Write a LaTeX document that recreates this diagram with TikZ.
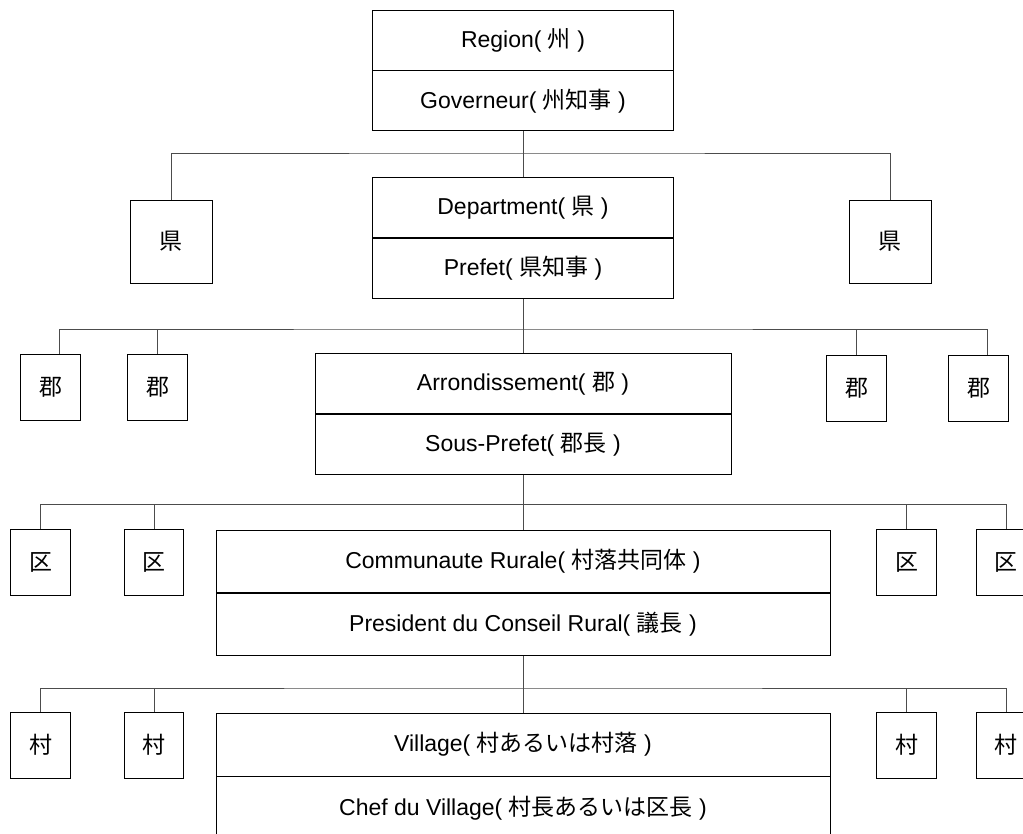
\documentclass[tikz,border=0pt]{standalone}
\usepackage{fontspec}
\setmainfont{Liberation Sans}
\newfontfamily\cjk{Noto Sans CJK JP}
\newcommand{\jp}[1]{{\cjk #1}}
\begin{document}
\begin{tikzpicture}[x=1pt, y=-1pt,
  every node/.style={inner sep=0pt, font=\fontsize{23}{27}\selectfont},
  rowbox/.style={draw, line width=0.9pt, minimum width=#1, minimum height=60pt},
  unitbox/.style={draw, line width=0.9pt, minimum width=59.5pt, minimum height=66pt},
  link/.style={draw=black!70, line width=0.8pt}]
\useasboundingbox (0,0) rectangle (1023,834);
\clip (0,0) rectangle (1023,834);
% Region
\node[rowbox=301pt] (reg) at (523,40) {Region( \jp{州} )};
\node[rowbox=301pt, anchor=north] (gov) at (reg.south) {Governeur( \jp{州知事} )};
% Department
\coordinate (bus1) at (523,153);
\node[rowbox=301pt] (dep) at (523,207.5) {Department( \jp{県} )};
\node[rowbox=301pt, anchor=north] (pref) at (dep.south) {Prefet( \jp{県知事} )};
\node[unitbox, minimum width=82pt, minimum height=83pt] (kenL) at (171,241.5) {\jp{県}};
\node[unitbox, minimum width=82pt, minimum height=83pt] (kenR) at (890,241.5) {\jp{県}};
\draw[link] (gov.south) -- (dep.north);
\draw[link] (kenL.north) |- (bus1) -| (kenR.north);
% Arrondissement
\coordinate (bus2) at (523,329);
\node[rowbox=416pt] (arr) at (523,383.5) {Arrondissement( \jp{郡} )};
\node[rowbox=416pt, anchor=north] (spref) at (arr.south) {Sous-Prefet( \jp{郡長} )};
\node[unitbox] (gun1) at (50.5,387) {\jp{郡}};
\node[unitbox] (gun2) at (157.5,387) {\jp{郡}};
\node[unitbox] (gun3) at (856.5,388) {\jp{郡}};
\node[unitbox] (gun4) at (978.5,388) {\jp{郡}};
\draw[link] (pref.south) -- (arr.north);
\draw[link] ([xshift=8.5pt]gun1.north) |- (bus2) -| ([xshift=8.5pt]gun4.north);
\draw[link] (gun2.north) -- (gun2.north |- bus2);
\draw[link] (gun3.north) -- (gun3.north |- bus2);
% Communaute Rurale
\coordinate (bus3) at (523,504.5);
\node[rowbox=614pt, minimum height=62.5pt] (com) at (523,561.25) {Communaute Rurale( \jp{村落共同体} )};
\node[rowbox=614pt, minimum height=62.5pt, anchor=north] (pres) at (com.south) {President du Conseil Rural( \jp{議長} )};
\node[unitbox] (ku1) at (40.5,562.5) {\jp{区}};
\node[unitbox] (ku2) at (154,562.5) {\jp{区}};
\node[unitbox] (ku3) at (906.5,562) {\jp{区}};
\node[unitbox] (ku4) at (1006,562) {\jp{区}};
\draw[link] (spref.south) -- (com.north);
\draw[link] (ku1.north) |- (bus3) -| (ku4.north);
\draw[link] (ku2.north) -- (ku2.north |- bus3);
\draw[link] (ku3.north) -- (ku3.north |- bus3);
% Village
\coordinate (bus4) at (523,688);
\node[rowbox=614pt, minimum height=63pt] (vil) at (523,744.5) {Village( \jp{村あるいは村落} )};
\node[rowbox=614pt, minimum height=63pt, anchor=north] (chef) at (vil.south) {Chef du Village( \jp{村長あるいは区長} )};
\node[unitbox] (mura1) at (40.5,745) {\jp{村}};
\node[unitbox] (mura2) at (154,745) {\jp{村}};
\node[unitbox] (mura3) at (906.5,745) {\jp{村}};
\node[unitbox] (mura4) at (1006,745) {\jp{村}};
\draw[link] (pres.south) -- (vil.north);
\draw[link] (mura1.north) |- (bus4) -| (mura4.north);
\draw[link] (mura2.north) -- (mura2.north |- bus4);
\draw[link] (mura3.north) -- (mura3.north |- bus4);
\end{tikzpicture}
\end{document}
